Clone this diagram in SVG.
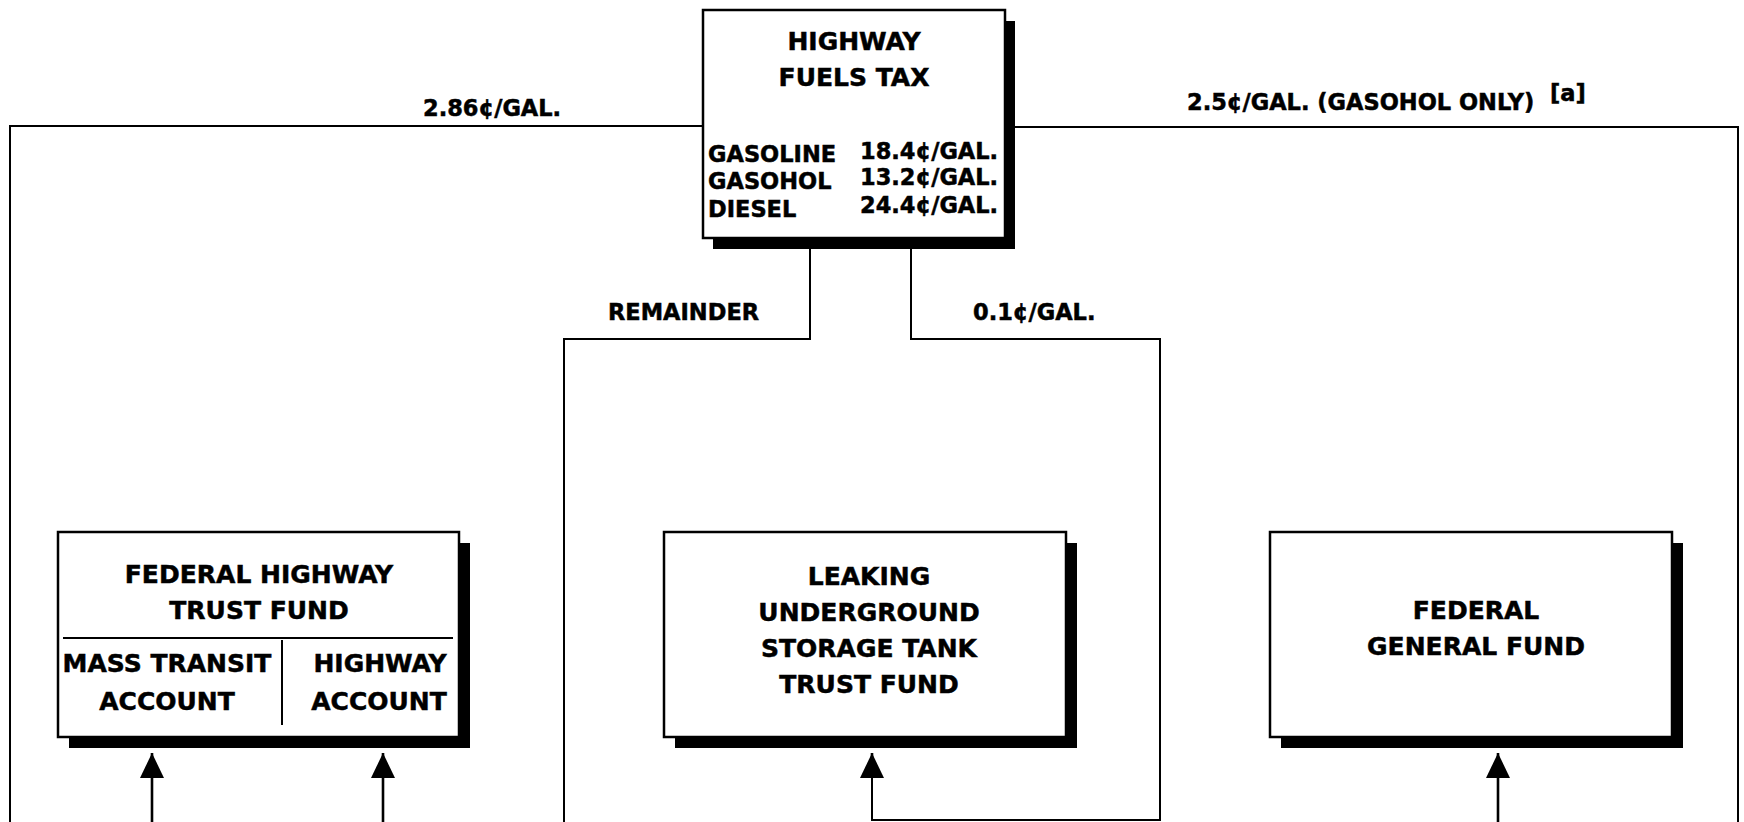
<svg xmlns="http://www.w3.org/2000/svg" width="1744" height="822" viewBox="0 0 1744 822">
  <defs>
    <style>
      text { font-family: "DejaVu Sans", Verdana, sans-serif; font-weight: bold; fill: #000; stroke: #000; stroke-width: 0.5px; }
      .box { fill: #fff; stroke: #000; stroke-width: 2.5; }
      .shadow { fill: #000; }
      .title { font-size: 25px; text-anchor: middle; }
      .lbl { font-size: 22.5px; }
      .rate { font-size: 22.5px; }
      .wire { fill: none; stroke: #000; stroke-width: 2; }
      .feed { fill: none; stroke: #000; stroke-width: 2.6; }
      .div { stroke: #000; stroke-width: 2; }
    </style>
    <!-- solid triangular head; the tip sits on the end of the line -->
    <marker id="arrow" markerUnits="userSpaceOnUse" markerWidth="26" markerHeight="24" viewBox="0 0 26 24" refX="25" refY="12" orient="auto">
      <path d="M0,0 L25,12 L0,24 Z" fill="#000"/>
    </marker>
  </defs>

  <rect width="1744" height="822" fill="#fff"/>

  <!-- flows out of the fuels tax and into the funds -->
  <g id="connectors">
    <path class="wire" d="M703,126 H10 V822"/>
    <path class="wire" d="M1005,127 H1738 V822"/>
    <path class="wire" d="M810,238 V339 H564 V822"/>
    <path class="wire" d="M911,238 V339 H1160 V820 H872 V775"/>
    <path class="feed" d="M872,776 V753" marker-end="url(#arrow)"/>
    <path class="feed" d="M152,822 V753" marker-end="url(#arrow)"/>
    <path class="feed" d="M383,822 V753" marker-end="url(#arrow)"/>
    <path class="feed" d="M1498,822 V753" marker-end="url(#arrow)"/>
    <text class="lbl" x="423" y="116">2.86¢/GAL.</text>
    <text class="lbl" x="1187" y="110">2.5¢/GAL. (GASOHOL ONLY)</text>
    <text class="lbl" x="1550" y="101" font-size="21">[a]</text>
    <text class="lbl" x="608" y="320">REMAINDER</text>
    <text class="lbl" x="973" y="320">0.1¢/GAL.</text>
  </g>

  <g id="fuels-tax">
    <rect class="shadow" x="713" y="21" width="302" height="228"/>
    <rect class="box" x="703" y="10" width="302" height="228"/>
    <text class="title" x="854" y="50">HIGHWAY</text>
    <text class="title" x="854" y="86">FUELS TAX</text>
    <text class="rate" x="708" y="162">GASOLINE</text>
    <text class="rate" x="708" y="189">GASOHOL</text>
    <text class="rate" x="708" y="217">DIESEL</text>
    <text class="rate" x="860" y="159">18.4¢/GAL.</text>
    <text class="rate" x="860" y="185">13.2¢/GAL.</text>
    <text class="rate" x="860" y="213">24.4¢/GAL.</text>
  </g>

  <g id="highway-trust-fund">
    <rect class="shadow" x="69" y="543" width="401" height="205"/>
    <rect class="box" x="58" y="532" width="401" height="205"/>
    <line class="div" x1="63" y1="638" x2="453" y2="638"/>
    <line class="div" x1="282" y1="640" x2="282" y2="725"/>
    <text class="title" x="259" y="583">FEDERAL HIGHWAY</text>
    <text class="title" x="259" y="619">TRUST FUND</text>
    <text class="title" x="167" y="672">MASS TRANSIT</text>
    <text class="title" x="167" y="710">ACCOUNT</text>
    <text class="title" x="380" y="672">HIGHWAY</text>
    <text class="title" x="379" y="710">ACCOUNT</text>
  </g>

  <g id="lust-trust-fund">
    <rect class="shadow" x="675" y="543" width="402" height="205"/>
    <rect class="box" x="664" y="532" width="402" height="205"/>
    <text class="title" x="869" y="585">LEAKING</text>
    <text class="title" x="869" y="621">UNDERGROUND</text>
    <text class="title" x="869" y="657">STORAGE TANK</text>
    <text class="title" x="869" y="693">TRUST FUND</text>
  </g>

  <g id="general-fund">
    <rect class="shadow" x="1281" y="543" width="402" height="205"/>
    <rect class="box" x="1270" y="532" width="402" height="205"/>
    <text class="title" x="1476" y="619">FEDERAL</text>
    <text class="title" x="1476" y="655">GENERAL FUND</text>
  </g>
</svg>
